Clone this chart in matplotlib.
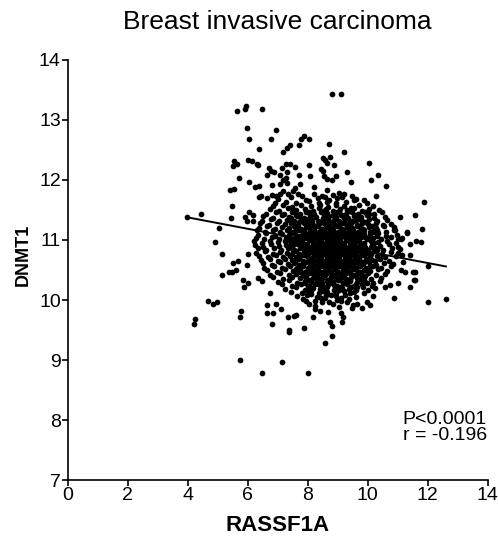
import numpy as np
import matplotlib
matplotlib.use("Agg")
import matplotlib.pyplot as plt

plt.rcParams['font.family'] = ['Liberation Sans', 'DejaVu Sans']

# scattered samples away from the main cloud (RASSF1A, DNMT1)
upper_pts = [
    (8.82, 13.44), (9.11, 13.44), (5.63, 13.15), (5.91, 13.19), (5.95, 13.24), (6.48, 13.19),
    (5.98, 12.86), (6.03, 12.69), (6.93, 12.83), (6.78, 12.68), (6.37, 12.52), (7.88, 12.74),
    (7.78, 12.68), (8.05, 12.68), (7.71, 12.59), (8.72, 12.60), (7.41, 12.58), (7.30, 12.54),
    (7.19, 12.47), (9.22, 12.47), (8.50, 12.37), (8.58, 12.33), (8.74, 12.39), (8.63, 12.29),
    (8.89, 12.25), (10.05, 12.29), (5.55, 12.32), (5.52, 12.23), (5.63, 12.27), (6.02, 12.33),
    (6.13, 12.32), (6.30, 12.27), (6.35, 12.25), (6.70, 12.20), (6.78, 12.15), (6.63, 12.09),
    (6.88, 12.13), (7.13, 12.20), (7.28, 12.27), (7.41, 12.27), (7.58, 12.22), (7.32, 12.13),
    (8.04, 12.25), (8.08, 12.07), (7.72, 12.09), (8.44, 12.18), (8.52, 12.15), (8.55, 12.07),
    (8.63, 12.02), (8.80, 12.00), (8.94, 12.07), (9.30, 12.13), (10.35, 12.09), (10.11, 12.00),
    (10.61, 11.90), (9.44, 11.97), (5.70, 12.03), (6.04, 11.96), (6.23, 11.89), (6.39, 11.90),
    (6.81, 11.92), (7.08, 11.94), (7.19, 12.00), (7.32, 11.95), (7.28, 12.03), (7.08, 12.08),
    (7.74, 11.93), (7.58, 11.86), (8.22, 11.89), (5.42, 11.83), (5.55, 11.85), (6.39, 11.72),
    (6.44, 11.74), (6.63, 11.70), (6.80, 11.75), (6.94, 11.74), (7.08, 11.77), (7.19, 11.81),
    (7.52, 11.82), (7.67, 11.77), (8.63, 11.83), (8.58, 11.72), (8.85, 11.75), (8.97, 11.70),
    (9.21, 11.77), (9.89, 11.67), (10.27, 11.74), (11.89, 11.64), (5.47, 11.57),
]

side_pts = [
    (11.08, 11.38), (11.58, 11.42), (11.80, 11.18), (11.33, 11.13), (10.88, 11.17),
    (5.43, 11.36), (5.91, 11.39), (6.05, 11.46), (6.17, 11.42), (5.97, 11.32), (6.19, 11.32),
    (4.43, 11.43), (5.05, 11.20), (3.97, 11.38), (11.13, 11.02), (11.41, 10.93), (11.61, 10.98),
    (11.78, 10.96), (11.15, 11.03), (11.32, 11.12), (11.15, 10.75), (11.41, 10.75),
    (11.19, 10.64), (11.13, 10.50), (11.24, 10.47), (11.54, 10.34), (11.52, 10.47),
    (12.00, 10.57), (4.91, 10.96), (5.13, 10.76), (5.13, 10.42), (5.52, 10.62), (5.69, 10.65),
    (5.47, 10.47), (5.60, 10.50), (5.39, 10.46), (6.00, 10.76), (5.97, 10.58), (5.85, 10.33),
    (6.02, 10.29), (5.88, 10.22), (6.35, 10.36), (6.47, 10.32),
]

lower_pts = [
    (4.67, 9.98), (4.85, 9.93), (4.97, 9.97), (4.24, 9.68), (4.22, 9.60), (5.77, 9.82),
    (5.74, 9.71), (6.74, 10.12), (6.65, 9.92), (6.94, 9.93), (6.63, 9.78), (6.83, 9.78),
    (7.10, 9.85), (6.82, 9.60), (7.33, 9.71), (7.54, 9.73), (7.61, 9.75), (7.38, 9.50),
    (7.39, 9.46), (7.89, 9.54), (8.24, 9.85), (8.41, 9.81), (8.19, 9.71), (8.69, 9.80),
    (8.74, 9.64), (8.82, 9.56), (9.11, 9.78), (9.17, 9.71), (9.13, 9.63), (8.80, 9.40),
    (8.58, 9.28), (9.47, 9.86), (9.63, 9.94), (9.80, 9.86), (9.97, 9.97), (10.08, 9.92),
    (10.19, 10.06), (10.24, 10.20), (10.89, 10.03), (12.00, 9.97), (12.61, 10.02),
    (11.41, 10.21), (11.58, 10.33), (11.58, 10.47), (11.00, 10.28), (10.74, 10.25),
    (10.58, 10.22), (5.74, 9.00), (7.13, 8.97), (6.47, 8.78), (8.02, 8.78),
]

# main cloud, read band by band from top to bottom
core_pts = [
    (7.35, 11.76), (7.82, 11.73), (8.21, 11.77), (8.47, 11.74), (9.05, 11.78), (9.48, 11.73),
    (7.02, 11.68), (7.45, 11.71), (7.96, 11.67), (8.33, 11.70), (8.71, 11.66), (9.14, 11.71), (9.62, 11.68),
    (6.92, 11.62), (7.28, 11.64), (7.61, 11.61), (8.05, 11.65), (8.38, 11.62), (8.66, 11.64), (8.93, 11.61),
    (9.27, 11.63), (9.55, 11.66), (9.98, 11.62),
    (6.84, 11.56), (7.17, 11.58), (7.49, 11.55), (7.78, 11.59), (8.12, 11.56), (8.41, 11.58), (8.69, 11.55),
    (8.95, 11.59), (9.22, 11.57), (9.46, 11.54), (9.71, 11.58), (10.17, 11.56),
    (6.73, 11.52), (7.04, 11.49), (7.36, 11.53), (7.62, 11.50), (7.91, 11.52), (8.18, 11.49), (8.39, 11.53),
    (8.62, 11.51), (8.85, 11.48), (9.08, 11.52), (9.31, 11.50), (9.56, 11.53), (9.83, 11.49), (10.06, 11.52),
    (10.38, 11.50),
    (6.61, 11.44), (6.95, 11.46), (7.22, 11.43), (7.47, 11.47), (7.74, 11.44), (7.96, 11.46), (8.21, 11.43),
    (8.44, 11.47), (8.63, 11.45), (8.86, 11.42), (9.05, 11.46), (9.27, 11.44), (9.49, 11.47), (9.68, 11.43),
    (9.92, 11.46), (10.21, 11.44), (10.48, 11.46),
    (6.52, 11.40), (6.86, 11.37), (7.13, 11.41), (7.38, 11.38), (7.64, 11.40), (7.88, 11.37), (8.07, 11.41),
    (8.29, 11.39), (8.51, 11.36), (8.72, 11.40), (8.93, 11.38), (9.12, 11.41), (9.34, 11.37), (9.55, 11.40),
    (9.77, 11.38), (9.98, 11.41), (10.23, 11.37), (10.57, 11.39),
    (6.48, 11.32), (6.79, 11.35), (7.05, 11.31), (7.31, 11.34), (7.55, 11.32), (7.79, 11.35), (7.97, 11.31),
    (8.16, 11.34), (8.34, 11.32), (8.53, 11.35), (8.71, 11.31), (8.88, 11.34), (9.06, 11.32), (9.24, 11.35),
    (9.41, 11.31), (9.60, 11.34), (9.81, 11.32), (10.04, 11.35), (10.31, 11.31), (10.66, 11.33),
    (6.42, 11.28), (6.71, 11.25), (6.98, 11.29), (7.24, 11.26), (7.46, 11.28), (7.68, 11.25), (7.87, 11.29),
    (8.05, 11.27), (8.23, 11.24), (8.40, 11.28), (8.57, 11.26), (8.75, 11.29), (8.92, 11.25), (9.09, 11.28),
    (9.27, 11.26), (9.45, 11.29), (9.63, 11.25), (9.82, 11.28), (10.03, 11.26), (10.27, 11.29), (10.52, 11.25),
    (10.79, 11.27),
    (6.39, 11.20), (6.64, 11.23), (6.91, 11.19), (7.15, 11.22), (7.38, 11.20), (7.59, 11.23), (7.78, 11.19),
    (7.96, 11.22), (8.13, 11.20), (8.31, 11.23), (8.47, 11.19), (8.64, 11.22), (8.81, 11.20), (8.97, 11.23),
    (9.14, 11.19), (9.31, 11.22), (9.48, 11.20), (9.66, 11.23), (9.84, 11.19), (10.05, 11.22), (10.29, 11.20),
    (10.56, 11.23), (10.87, 11.21),
    (6.31, 11.16), (6.58, 11.13), (6.84, 11.17), (7.09, 11.14), (7.31, 11.16), (7.52, 11.13), (7.71, 11.17),
    (7.89, 11.15), (8.06, 11.12), (8.22, 11.16), (8.38, 11.14), (8.54, 11.17), (8.70, 11.13), (8.86, 11.16),
    (9.02, 11.14), (9.18, 11.17), (9.35, 11.13), (9.51, 11.16), (9.69, 11.14), (9.87, 11.17), (10.08, 11.13),
    (10.33, 11.16), (10.61, 11.14), (10.92, 11.16),
    (6.34, 11.08), (6.62, 11.11), (6.90, 11.07), (7.14, 11.10), (7.37, 11.08), (7.57, 11.11), (7.76, 11.07),
    (7.93, 11.10), (8.10, 11.08), (8.26, 11.11), (8.42, 11.07), (8.58, 11.10), (8.73, 11.08), (8.89, 11.11),
    (9.04, 11.07), (9.20, 11.10), (9.36, 11.08), (9.53, 11.11), (9.70, 11.07), (9.88, 11.10), (10.09, 11.08),
    (10.34, 11.11), (10.63, 11.07), (10.97, 11.09),
    (6.28, 11.04), (6.55, 11.01), (6.81, 11.05), (7.06, 11.02), (7.29, 11.04), (7.50, 11.01), (7.69, 11.05),
    (7.87, 11.03), (8.04, 11.00), (8.19, 11.04), (8.35, 11.02), (8.50, 11.05), (8.66, 11.01), (8.81, 11.04),
    (8.96, 11.02), (9.12, 11.05), (9.27, 11.01), (9.43, 11.04), (9.60, 11.02), (9.78, 11.05), (9.97, 11.01),
    (10.19, 11.04), (10.45, 11.02), (10.78, 11.05), (11.02, 11.01),
    (6.21, 10.98), (6.49, 10.95), (6.76, 10.99), (7.01, 10.96), (7.24, 10.98), (7.45, 10.95), (7.64, 10.99),
    (7.82, 10.97), (7.99, 10.94), (8.15, 10.98), (8.31, 10.96), (8.46, 10.99), (8.62, 10.95), (8.77, 10.98),
    (8.92, 10.96), (9.07, 10.99), (9.22, 10.95), (9.38, 10.98), (9.54, 10.96), (9.71, 10.99), (9.89, 10.95),
    (10.10, 10.98), (10.36, 10.96), (10.66, 10.99), (10.94, 10.95),
    (6.24, 10.92), (6.52, 10.89), (6.79, 10.93), (7.04, 10.90), (7.27, 10.92), (7.48, 10.89), (7.67, 10.93),
    (7.85, 10.91), (8.02, 10.88), (8.18, 10.92), (8.34, 10.90), (8.49, 10.93), (8.64, 10.89), (8.79, 10.92),
    (8.94, 10.90), (9.09, 10.93), (9.25, 10.89), (9.41, 10.92), (9.57, 10.90), (9.74, 10.93), (9.93, 10.89),
    (10.14, 10.92), (10.40, 10.90), (10.71, 10.93), (11.01, 10.89),
    (6.33, 10.86), (6.61, 10.83), (6.88, 10.87), (7.12, 10.84), (7.34, 10.86), (7.55, 10.83), (7.74, 10.87),
    (7.92, 10.85), (8.08, 10.82), (8.24, 10.86), (8.40, 10.84), (8.55, 10.87), (8.70, 10.83), (8.85, 10.86),
    (9.00, 10.84), (9.15, 10.87), (9.31, 10.83), (9.47, 10.86), (9.63, 10.84), (9.81, 10.87), (10.01, 10.83),
    (10.24, 10.86), (10.51, 10.84), (10.83, 10.87), (11.08, 10.85),
    (6.29, 10.78), (6.57, 10.81), (6.84, 10.77), (7.08, 10.80), (7.30, 10.78), (7.51, 10.81), (7.70, 10.77),
    (7.88, 10.80), (8.05, 10.78), (8.21, 10.81), (8.37, 10.77), (8.52, 10.80), (8.67, 10.78), (8.82, 10.81),
    (8.97, 10.77), (9.12, 10.80), (9.28, 10.78), (9.44, 10.81), (9.61, 10.77), (9.79, 10.80), (9.98, 10.78),
    (10.20, 10.81), (10.47, 10.77), (10.78, 10.80), (11.03, 10.79),
    (6.38, 10.74), (6.67, 10.71), (6.93, 10.75), (7.18, 10.72), (7.40, 10.74), (7.61, 10.71), (7.80, 10.75),
    (7.98, 10.73), (8.14, 10.70), (8.30, 10.74), (8.46, 10.72), (8.61, 10.75), (8.76, 10.71), (8.91, 10.74),
    (9.06, 10.72), (9.21, 10.75), (9.37, 10.71), (9.53, 10.74), (9.70, 10.72), (9.88, 10.75), (10.08, 10.71),
    (10.31, 10.74), (10.58, 10.72), (10.95, 10.74),
    (6.43, 10.66), (6.73, 10.69), (7.00, 10.65), (7.25, 10.68), (7.47, 10.66), (7.67, 10.69), (7.86, 10.65),
    (8.03, 10.68), (8.19, 10.66), (8.35, 10.69), (8.50, 10.65), (8.65, 10.68), (8.80, 10.66), (8.95, 10.69),
    (9.10, 10.65), (9.26, 10.68), (9.42, 10.66), (9.59, 10.69), (9.76, 10.65), (9.95, 10.68), (10.16, 10.66),
    (10.41, 10.69), (10.72, 10.65),
    (6.51, 10.62), (6.82, 10.59), (7.09, 10.63), (7.33, 10.60), (7.55, 10.62), (7.75, 10.59), (7.93, 10.63),
    (8.10, 10.61), (8.26, 10.58), (8.42, 10.62), (8.57, 10.60), (8.72, 10.63), (8.87, 10.59), (9.02, 10.62),
    (9.18, 10.60), (9.34, 10.63), (9.50, 10.59), (9.67, 10.62), (9.85, 10.60), (10.05, 10.63), (10.28, 10.59),
    (10.56, 10.62), (10.86, 10.60),
    (6.56, 10.54), (6.88, 10.57), (7.16, 10.53), (7.41, 10.56), (7.63, 10.54), (7.83, 10.57), (8.01, 10.53),
    (8.18, 10.56), (8.34, 10.54), (8.49, 10.57), (8.64, 10.53), (8.79, 10.56), (8.94, 10.54), (9.09, 10.57),
    (9.25, 10.53), (9.41, 10.56), (9.58, 10.54), (9.76, 10.57), (9.96, 10.53), (10.18, 10.56), (10.44, 10.54),
    (10.77, 10.56),
    (6.63, 10.50), (6.97, 10.47), (7.26, 10.51), (7.51, 10.48), (7.73, 10.50), (7.92, 10.47), (8.10, 10.51),
    (8.26, 10.49), (8.42, 10.46), (8.57, 10.50), (8.72, 10.48), (8.87, 10.51), (9.02, 10.47), (9.18, 10.50),
    (9.34, 10.48), (9.51, 10.51), (9.69, 10.47), (9.88, 10.50), (10.09, 10.48), (10.34, 10.51), (10.66, 10.49),
    (6.74, 10.42), (7.08, 10.45), (7.37, 10.41), (7.62, 10.44), (7.84, 10.42), (8.03, 10.45), (8.20, 10.41),
    (8.36, 10.44), (8.51, 10.42), (8.66, 10.45), (8.81, 10.41), (8.96, 10.44), (9.12, 10.42), (9.28, 10.45),
    (9.45, 10.41), (9.63, 10.44), (9.82, 10.42), (10.03, 10.45), (10.27, 10.41), (10.57, 10.43),
    (6.83, 10.38), (7.19, 10.35), (7.49, 10.39), (7.74, 10.36), (7.95, 10.38), (8.14, 10.35), (8.31, 10.39),
    (8.47, 10.37), (8.63, 10.34), (8.79, 10.38), (8.95, 10.36), (9.11, 10.39), (9.28, 10.35), (9.46, 10.38),
    (9.65, 10.36), (9.86, 10.39), (10.10, 10.35), (10.46, 10.37),
    (7.02, 10.30), (7.38, 10.33), (7.66, 10.29), (7.90, 10.32), (8.11, 10.30), (8.30, 10.33), (8.48, 10.29),
    (8.66, 10.32), (8.84, 10.30), (9.02, 10.33), (9.21, 10.29), (9.41, 10.32), (9.63, 10.30), (9.88, 10.33),
    (10.17, 10.29), (10.41, 10.31),
    (7.13, 10.26), (7.47, 10.23), (7.77, 10.27), (8.02, 10.24), (8.25, 10.26), (8.46, 10.23), (8.67, 10.27),
    (8.88, 10.25), (9.09, 10.22), (9.31, 10.26), (9.55, 10.24), (9.81, 10.27), (10.14, 10.23),
    (7.24, 10.18), (7.61, 10.21), (7.92, 10.17), (8.18, 10.20), (8.42, 10.18), (8.65, 10.21), (8.89, 10.17),
    (9.13, 10.20), (9.38, 10.18), (9.66, 10.21), (10.02, 10.17),
    (7.43, 10.14), (7.81, 10.11), (8.12, 10.15), (8.39, 10.12), (8.66, 10.14), (8.94, 10.11), (9.22, 10.15),
    (9.53, 10.13), (9.87, 10.11),
    (7.64, 10.06), (7.98, 10.09), (8.31, 10.05), (8.62, 10.08), (8.93, 10.06), (9.26, 10.09), (9.61, 10.05),
    (7.83, 10.02), (8.24, 9.99), (8.58, 10.03), (8.98, 10.00), (9.37, 10.02),
    (8.05, 9.94), (8.47, 9.97), (8.86, 9.93), (9.31, 9.96),
]

# extra samples filling the darkest part of the cloud
dense_pts = [
    (7.50, 11.48), (8.05, 11.47), (8.52, 11.49), (8.97, 11.46), (9.42, 11.49), (9.95, 11.47),
    (7.60, 11.42), (8.10, 11.41), (8.55, 11.43), (9.16, 11.42), (9.60, 11.41), (10.05, 11.43),
    (7.45, 11.36), (8.00, 11.35), (8.62, 11.37), (9.22, 11.36), (9.70, 11.35),
    (7.70, 11.30), (8.14, 11.29), (8.48, 11.31), (8.83, 11.30), (9.18, 11.29), (9.52, 11.31), (9.92, 11.30),
    (7.55, 11.24), (8.00, 11.23), (8.35, 11.25), (8.70, 11.24), (9.03, 11.23), (9.38, 11.25), (9.74, 11.24),
    (10.15, 11.23),
    (7.62, 11.18), (8.07, 11.17), (8.44, 11.19), (8.78, 11.18), (9.10, 11.17), (9.44, 11.19), (9.78, 11.18),
    (10.20, 11.17),
    (7.45, 11.12), (7.85, 11.11), (8.18, 11.13), (8.50, 11.12), (8.81, 11.11), (9.12, 11.13), (9.44, 11.12),
    (9.79, 11.11), (10.22, 11.13),
    (7.60, 11.06), (7.97, 11.05), (8.30, 11.07), (8.62, 11.06), (8.93, 11.05), (9.24, 11.07), (9.55, 11.06),
    (9.90, 11.05), (10.30, 11.07),
    (7.38, 11.00), (7.78, 10.99), (8.12, 11.01), (8.43, 11.00), (8.74, 10.99), (9.05, 11.01), (9.35, 11.00),
    (9.68, 10.99), (10.06, 11.01),
    (7.55, 10.94), (7.92, 10.93), (8.25, 10.95), (8.55, 10.94), (8.86, 10.93), (9.16, 10.95), (9.47, 10.94),
    (9.80, 10.93), (10.22, 10.95),
    (7.42, 10.88), (7.83, 10.87), (8.16, 10.89), (8.47, 10.88), (8.77, 10.87), (9.07, 10.89), (9.37, 10.88),
    (9.70, 10.87), (10.10, 10.89),
    (7.62, 10.82), (7.98, 10.81), (8.30, 10.83), (8.60, 10.82), (8.91, 10.81), (9.21, 10.83), (9.53, 10.82),
    (9.88, 10.81), (10.33, 10.83),
    (7.48, 10.76), (7.87, 10.75), (8.22, 10.77), (8.54, 10.76), (8.85, 10.75), (9.16, 10.77), (9.46, 10.76),
    (9.80, 10.75), (10.12, 10.77),
    (7.70, 10.70), (8.07, 10.69), (8.39, 10.71), (8.69, 10.70), (8.99, 10.69), (9.30, 10.71), (9.62, 10.70),
    (9.97, 10.69),
    (7.58, 10.64), (7.96, 10.63), (8.29, 10.65), (8.59, 10.64), (8.89, 10.63), (9.20, 10.65), (9.52, 10.64),
    (9.88, 10.63), (10.25, 10.65),
    (7.72, 10.58), (8.08, 10.57), (8.40, 10.59), (8.71, 10.58), (9.03, 10.57), (9.36, 10.59), (9.70, 10.58),
    (10.08, 10.57),
    (7.60, 10.52), (8.00, 10.51), (8.34, 10.53), (8.65, 10.52), (8.96, 10.51), (9.29, 10.53), (9.62, 10.52),
    (9.99, 10.51),
    (7.74, 10.46), (8.12, 10.45), (8.46, 10.47), (8.78, 10.46), (9.10, 10.45), (9.42, 10.47), (9.76, 10.46),
    (7.90, 10.40), (8.27, 10.39), (8.59, 10.41), (8.90, 10.40), (9.20, 10.39), (9.54, 10.41), (9.92, 10.40),
    (8.02, 10.34), (8.38, 10.33), (8.73, 10.35), (9.08, 10.34), (9.40, 10.33), (9.75, 10.35),
    (7.90, 10.28), (8.35, 10.27), (8.76, 10.29), (9.18, 10.28), (9.62, 10.27), (9.98, 10.29),
    (8.08, 10.22), (8.55, 10.21), (8.98, 10.23), (9.45, 10.22), (9.85, 10.21),
    (7.98, 10.16), (8.52, 10.15), (9.05, 10.17), (9.62, 10.16),
    (8.12, 10.10), (8.78, 10.09), (9.40, 10.11),
    (8.45, 10.04), (9.12, 10.03),
    (7.95, 9.98), (8.70, 9.97), (9.10, 9.99),
    (8.25, 9.90), (9.05, 9.89), (9.50, 9.91),
]

# linear fit reported with the chart
fit_slope = -0.095
fit_intercept = 11.757
p_text = "P<0.0001"
r_text = "r = -0.196"

pts = np.array(upper_pts + side_pts + lower_pts + core_pts + dense_pts)
x, y = pts[:, 0], pts[:, 1]

fig = plt.figure(figsize=(4.98, 5.40), dpi=100)
ax = fig.add_axes([0.136, 0.111, 0.843, 0.778])

ax.scatter(x, y, s=17, c='black', linewidths=0, zorder=3)

xf = np.array([x.min(), x.max()])
ax.plot(xf, fit_intercept + fit_slope * xf, color='black', lw=1.4, zorder=4)

ax.set_xlim(0, 14)
ax.set_ylim(7, 14)
ax.set_xticks(range(0, 15, 2))
ax.set_yticks(range(7, 15))
ax.spines['top'].set_visible(False)
ax.spines['right'].set_visible(False)
for s in ['left', 'bottom']:
    ax.spines[s].set_linewidth(1.2)
ax.tick_params(direction='out', length=4, width=1.2, labelsize=14, pad=1)

ax.set_xlabel('RASSF1A', fontsize=16, fontweight='bold', labelpad=8)
ax.set_ylabel('DNMT1', fontsize=13, fontweight='bold')
ax.yaxis.set_label_coords(-0.085, 0.536)
ax.set_title('Breast invasive carcinoma', fontsize=19, pad=22)

ax.text(13.97, 7.6, p_text + "\n" + r_text, ha='right', va='bottom',
        fontsize=14, linespacing=0.95)

fig.savefig('out.png', dpi=100)
